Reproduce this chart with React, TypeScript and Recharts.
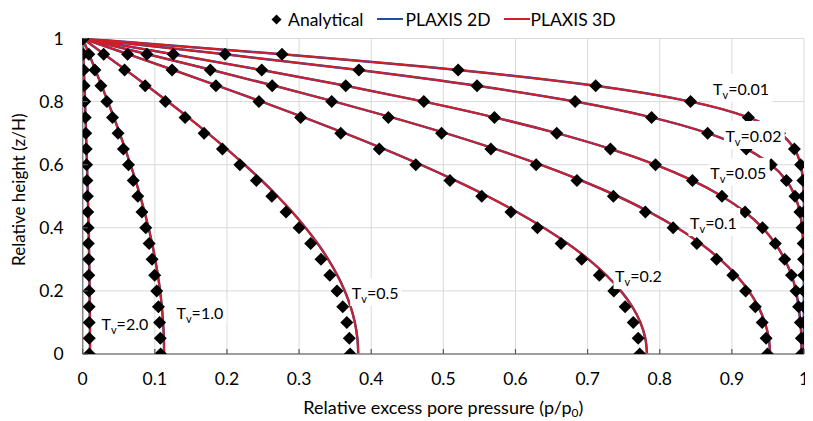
import React from 'react';
import {
  ComposedChart,
  Line,
  Scatter,
  XAxis,
  YAxis,
  CartesianGrid,
  Legend,
} from 'recharts';

// Relative heights z/H at which every isochrone is sampled (bottom to top)
const heights = [
  0, 0.05, 0.1, 0.15, 0.2, 0.25, 0.3, 0.35, 0.4, 0.45, 0.5,
  0.55, 0.6, 0.65, 0.7, 0.75, 0.8, 0.85, 0.9, 0.95, 1,
];

// Analytical relative excess pore pressure p/p0, one value per height above
const analyticalTv001 = [1, 1, 1, 1, 1, 1, 1, 1, 1, 1, 0.9996, 0.9985, 0.9953, 0.9867, 0.9661, 0.9229, 0.8427, 0.7112, 0.5205, 0.2763, 0];
const analyticalTv002 = [1, 1, 1, 1, 1, 0.9998, 0.9995, 0.9989, 0.9973, 0.9943, 0.9875, 0.9756, 0.9545, 0.9199, 0.8664, 0.7887, 0.6827, 0.5467, 0.3829, 0.1974, 0];
const analyticalTv005 = [0.9966, 0.9964, 0.995, 0.9925, 0.9889, 0.9827, 0.9732, 0.9602, 0.9425, 0.9183, 0.8862, 0.8453, 0.7941, 0.7316, 0.6572, 0.5708, 0.4729, 0.3647, 0.2482, 0.1256, 0];
const analyticalTv01 = [0.9493, 0.9475, 0.942, 0.9325, 0.9191, 0.9013, 0.8788, 0.8514, 0.8186, 0.7801, 0.7357, 0.6852, 0.6286, 0.5659, 0.4975, 0.4238, 0.3452, 0.2627, 0.1769, 0.089, 0];
const analyticalTv02 = [0.7723, 0.7701, 0.7633, 0.752, 0.7363, 0.7162, 0.6918, 0.6632, 0.6304, 0.5937, 0.5532, 0.5091, 0.4617, 0.4111, 0.3578, 0.3021, 0.2443, 0.1847, 0.1239, 0.0622, 0];
const analyticalTv05 = [0.3708, 0.3696, 0.3662, 0.3605, 0.3526, 0.3426, 0.3304, 0.3161, 0.3, 0.2819, 0.2622, 0.2408, 0.2179, 0.1937, 0.1683, 0.1419, 0.1146, 0.0866, 0.058, 0.0291, 0];
const analyticalTv10 = [0.108, 0.1076, 0.1066, 0.105, 0.1027, 0.0998, 0.0962, 0.0921, 0.0874, 0.0821, 0.0764, 0.0701, 0.0635, 0.0564, 0.049, 0.0413, 0.0334, 0.0252, 0.0169, 0.0085, 0];
const analyticalTv20 = [0.0092, 0.0091, 0.009, 0.0089, 0.0087, 0.0085, 0.0082, 0.0078, 0.0074, 0.007, 0.0065, 0.0059, 0.0054, 0.0048, 0.0042, 0.0035, 0.0028, 0.0021, 0.0014, 0.0007, 0];

// PLAXIS isochrones (2D and 3D coincide), same heights
const plaxisTv001 = analyticalTv001;
const plaxisTv002 = analyticalTv002;
const plaxisTv005 = analyticalTv005;
const plaxisTv01 = [0.9529, 0.9512, 0.9457, 0.9366, 0.9234, 0.9059, 0.8838, 0.8567, 0.8243, 0.786, 0.7418, 0.6914, 0.6347, 0.5718, 0.503, 0.4286, 0.3493, 0.2659, 0.1791, 0.0901, 0];
const plaxisTv02 = [0.7823, 0.78, 0.7732, 0.7619, 0.746, 0.7258, 0.7012, 0.6723, 0.6392, 0.6021, 0.5612, 0.5165, 0.4685, 0.4173, 0.3633, 0.3067, 0.2481, 0.1876, 0.1258, 0.0631, 0];
const plaxisTv05 = [0.382, 0.3808, 0.3773, 0.3714, 0.3633, 0.3529, 0.3404, 0.3257, 0.309, 0.2905, 0.2701, 0.2481, 0.2245, 0.1996, 0.1734, 0.1462, 0.118, 0.0892, 0.0598, 0.03, 0];
const plaxisTv10 = [0.1128, 0.1125, 0.1114, 0.1097, 0.1073, 0.1042, 0.1005, 0.0962, 0.0913, 0.0858, 0.0798, 0.0733, 0.0663, 0.0589, 0.0512, 0.0432, 0.0349, 0.0263, 0.0176, 0.0089, 0];
const plaxisTv20 = [0.0101, 0.0101, 0.01, 0.0098, 0.0096, 0.0093, 0.009, 0.0086, 0.0082, 0.0077, 0.0071, 0.0066, 0.0059, 0.0053, 0.0046, 0.0039, 0.0031, 0.0024, 0.0016, 0.0008, 0];

// Time factors Tv of the isochrones
const timeFactors = ['0.01', '0.02', '0.05', '0.1', '0.2', '0.5', '1.0', '2.0'];
const analyticalSeries = [analyticalTv001, analyticalTv002, analyticalTv005, analyticalTv01, analyticalTv02, analyticalTv05, analyticalTv10, analyticalTv20];
const plaxisSeries = [plaxisTv001, plaxisTv002, plaxisTv005, plaxisTv01, plaxisTv02, plaxisTv05, plaxisTv10, plaxisTv20];

// Axis ticks and text
const xTicks = [0, 0.1, 0.2, 0.3, 0.4, 0.5, 0.6, 0.7, 0.8, 0.9, 1];
const yTicks = [0, 0.2, 0.4, 0.6, 0.8, 1];
const xTitle = 'Relative excess pore pressure (p/p';
const xTitleSub = '0';
const yTitle = 'Relative height (z/H)';
const legendNames = ['Analytical', 'PLAXIS 2D', 'PLAXIS 3D'];

// Where each Tv annotation sits (left edge / baseline, in axis units)
const curveLabelAnchors = [
  { p: 0.874, h: 0.821, tv: timeFactors[0] },
  { p: 0.891, h: 0.672, tv: timeFactors[1] },
  { p: 0.87, h: 0.555, tv: timeFactors[2] },
  { p: 0.842, h: 0.396, tv: timeFactors[3] },
  { p: 0.738, h: 0.228, tv: timeFactors[4] },
  { p: 0.373, h: 0.174, tv: timeFactors[5] },
  { p: 0.13, h: 0.111, tv: timeFactors[6] },
  { p: 0.026, h: 0.076, tv: timeFactors[7] },
];

const FONT = 'Lato, "Open Sans", sans-serif';
const TEXT = '#000000';
const BLUE = '#1f4e9a';
const RED = '#d01f2b';
const AXIS = '#868686';
const GRID = '#d9d9d9';
const TICK_FONT = 17.5;
const LABEL_FONT = 16;
const X_TICK_GAP = 19;
const Y_TICK_GAP = 19;

const toPoints = (values: number[]) => values.map((p, i) => ({ p, h: heights[i] }));

const Diamond = (props: any) => {
  const { cx, cy } = props;
  if (cx == null || cy == null) return null;
  const s = 6.5;
  return <path d={`M${cx},${cy - s}L${cx + s},${cy}L${cx},${cy + s}L${cx - s},${cy}Z`} fill="#000" />;
};

const XTick = (props: any) => {
  const { x, y, payload } = props;
  const axisY = y - X_TICK_GAP;
  return (
    <g>
      <line x1={x} x2={x} y1={axisY} y2={axisY - 5} stroke="#595959" strokeWidth={1.2} />
      <text x={x} y={y} dy="0.71em" textAnchor="middle" fill={TEXT} fontSize={TICK_FONT} fontFamily={FONT}>
        {String(payload.value)}
      </text>
    </g>
  );
};

const YTick = (props: any) => {
  const { x, y, payload } = props;
  const axisX = x + Y_TICK_GAP;
  return (
    <g>
      <line x1={axisX} x2={axisX + 5} y1={y} y2={y} stroke="#595959" strokeWidth={1.2} />
      <text x={x} y={y} dy="0.35em" textAnchor="end" fill={TEXT} fontSize={TICK_FONT} fontFamily={FONT}>
        {String(payload.value)}
      </text>
    </g>
  );
};

const XTitle = (props: any) => {
  const vb = props.viewBox || {};
  const cx = vb.x + vb.width / 2;
  const y = vb.y + 59.5;
  return (
    <text x={cx} y={y} textAnchor="middle" fill={TEXT} fontSize={18} fontFamily={FONT}>
      {xTitle}
      <tspan dy={3.5} fontSize={12}>{xTitleSub}</tspan>
      <tspan dy={-3.5}>)</tspan>
    </text>
  );
};

const YTitle = (props: any) => {
  const vb = props.viewBox || {};
  const cx = vb.x + 17;
  const cy = 181.7;
  return (
    <text
      x={cx}
      y={cy}
      transform={`rotate(-90, ${cx}, ${cy})`}
      textAnchor="middle"
      fill={TEXT}
      fontSize={17}
      fontFamily={FONT}
    >
      {yTitle}
    </text>
  );
};

// Tv annotation with an opaque white box behind it, drawn as the dot of a one-point series
const CurveLabel = (props: any) => {
  const { cx, cy, payload } = props;
  if (cx == null || cy == null || !payload) return null;
  const tv: string = payload.tv;
  const digitW = LABEL_FONT * 0.58;
  const textW = digitW + 6 + digitW + (tv.length - 1) * digitW + 4;
  return (
    <g key={`tv-${tv}`}>
      <rect x={cx - 1.5} y={cy - 21} width={textW + 4.5} height={28} fill="#ffffff" stroke="none" />
      <text x={cx} y={cy} fill={TEXT} fontSize={LABEL_FONT} fontFamily={FONT}>
        T
        <tspan dy={4} fontSize={11}>v</tspan>
        <tspan dy={-4}>={tv}</tspan>
      </text>
    </g>
  );
};

const LegendContent = () => (
  <div
    style={{
      display: 'flex',
      justifyContent: 'center',
      alignItems: 'center',
      height: 22,
      fontFamily: FONT,
      fontSize: 17.5,
      color: TEXT,
      whiteSpace: 'nowrap',
    }}
  >
    <svg width={11} height={11} style={{ marginRight: 6 }}>
      <path d="M5.5,0.5L10.5,5.5L5.5,10.5L0.5,5.5Z" fill="#000" />
    </svg>
    <span style={{ marginRight: 14 }}>{legendNames[0]}</span>
    <svg width={26} height={4} style={{ marginRight: 2 }}>
      <line x1={0} x2={26} y1={2} y2={2} stroke={BLUE} strokeWidth={2} />
    </svg>
    <span style={{ marginRight: 13 }}>{legendNames[1]}</span>
    <svg width={26} height={4} style={{ marginRight: 1 }}>
      <line x1={0} x2={26} y1={2} y2={2} stroke={RED} strokeWidth={2} />
    </svg>
    <span>{legendNames[2]}</span>
  </div>
);

export default function App() {
  return (
    <div style={{ width: 805, height: 413 }}>
      <ComposedChart width={805} height={413} margin={{ top: 30.5, right: 9, bottom: 0, left: 0 }}>
        <CartesianGrid stroke={GRID} strokeWidth={1} />
        <XAxis
          dataKey="p"
          type="number"
          domain={[0, 1]}
          ticks={xTicks}
          interval={0}
          height={67}
          tickSize={0}
          tickMargin={X_TICK_GAP}
          tickLine={false}
          axisLine={{ stroke: AXIS, strokeWidth: 1.5 }}
          tick={<XTick />}
          label={<XTitle />}
          allowDataOverflow
        />
        <YAxis
          dataKey="h"
          type="number"
          domain={[0, 1]}
          ticks={yTicks}
          interval={0}
          width={74.7}
          tickSize={0}
          tickMargin={Y_TICK_GAP}
          tickLine={false}
          axisLine={{ stroke: AXIS, strokeWidth: 1.5 }}
          tick={<YTick />}
          label={<YTitle />}
          allowDataOverflow
        />
        <Legend
          layout="horizontal"
          verticalAlign="middle"
          align="center"
          wrapperStyle={{ top: 0, left: 74.7, width: 721.3, height: 22 }}
          content={<LegendContent />}
        />
        {plaxisSeries.map((values, i) => (
          <Line
            key={`plaxis2d-${timeFactors[i]}`}
            data={toPoints(values)}
            dataKey="h"
            type="monotoneY"
            stroke={BLUE}
            strokeWidth={2.5}
            dot={false}
            activeDot={false}
            legendType="none"
            isAnimationActive={false}
          />
        ))}
        {plaxisSeries.map((values, i) => (
          <Line
            key={`plaxis3d-${timeFactors[i]}`}
            data={toPoints(values)}
            dataKey="h"
            type="monotoneY"
            stroke={RED}
            strokeWidth={2}
            dot={false}
            activeDot={false}
            legendType="none"
            isAnimationActive={false}
          />
        ))}
        <Line
          data={curveLabelAnchors}
          dataKey="h"
          type="linear"
          stroke="none"
          strokeWidth={0}
          dot={CurveLabel}
          activeDot={false}
          legendType="none"
          isAnimationActive={false}
        />
        {analyticalSeries.map((values, i) => (
          <Scatter
            key={`analytical-${timeFactors[i]}`}
            data={toPoints(values)}
            dataKey="h"
            shape={<Diamond />}
            legendType="none"
            isAnimationActive={false}
          />
        ))}
      </ComposedChart>
    </div>
  );
}
